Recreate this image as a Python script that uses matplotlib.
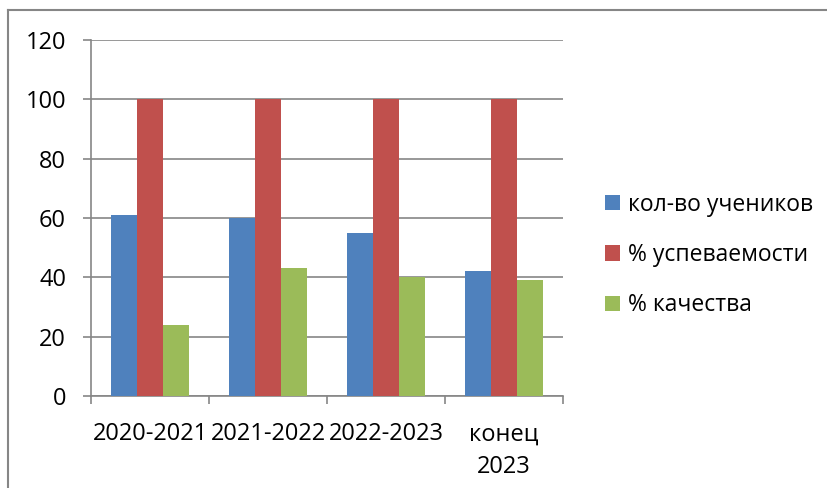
import numpy as np
import matplotlib.pyplot as plt
from matplotlib.lines import Line2D

plt.rcParams['font.family'] = ['Open Sans', 'DejaVu Sans']

years = ['2020-2021', '2021-2022', '2022-2023', 'конец\n2023']
students = [61, 60, 55, 42]        # кол-во учеников
success = [100, 100, 100, 100]     # % успеваемости
quality = [24, 43, 40, 39]         # % качества

series = [
    ('кол-во учеников', students, '#4F81BD'),
    ('% успеваемости', success, '#C0504D'),
    ('% качества', quality, '#9BBB59'),
]

W, H = 827, 488
fig = plt.figure(figsize=(W / 100, H / 100), dpi=100)
ax = fig.add_axes([91 / W, 1 - 396 / H, (563 - 91) / W, (396 - 40) / H])

grey = '#868686'
fs = 17

x = np.arange(len(years))
bw = 1 / 4.5
for k, (name, vals, col) in enumerate(series):
    ax.bar(x + (k - 1) * bw, vals, bw, color=col, label=name, zorder=3)

ax.set_ylim(0, 120)
ax.set_yticks(range(0, 121, 20))
ax.set_xlim(-0.5, len(years) - 0.5)
ax.yaxis.grid(True, color=grey, lw=1.2, zorder=0)

# ticks on category boundaries, labels at centres
ax.set_xticks(np.arange(len(years) + 1) - 0.5)
ax.set_xticklabels([])
ax.set_xticks(x, minor=True)
ax.set_xticklabels(years, minor=True, fontsize=fs, linespacing=1.5)
ax.tick_params(axis='x', which='minor', length=0, pad=19)
ax.tick_params(axis='x', which='major', length=6, width=1.2, color=grey)
ax.tick_params(axis='y', length=6, width=1.2, color=grey, labelsize=fs, pad=12)

for s in ['top', 'right']:
    ax.spines[s].set_visible(False)
for s in ['left', 'bottom']:
    ax.spines[s].set_color(grey)
    ax.spines[s].set_linewidth(1.2)

fig.legend(loc='center left', bbox_to_anchor=(605 / W, 1 - 255 / H),
           frameon=False, fontsize=16.5, handlelength=0.65, handleheight=0.65,
           handletextpad=0.35, labelspacing=1.15, borderpad=0, borderaxespad=0)

# outer chart border (only top and left edges visible)
fig.add_artist(Line2D([8 / W, 1], [1 - 10 / H, 1 - 10 / H], color=grey, lw=1.5))
fig.add_artist(Line2D([8 / W, 8 / W], [0, 1 - 10 / H], color=grey, lw=1.5))

fig.savefig('out.png', dpi=100)
